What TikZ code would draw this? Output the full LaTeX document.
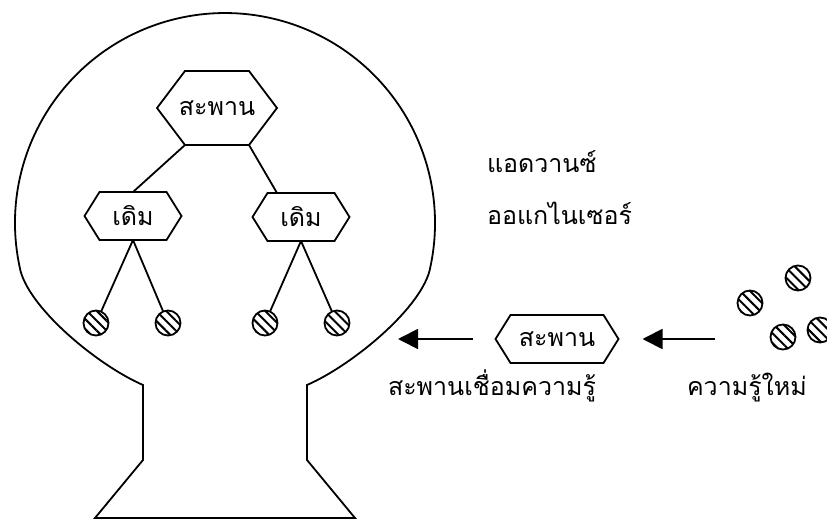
\documentclass[tikz,border=0pt]{standalone}
\usepackage{fontspec}
\newfontfamily\thaifont[Script=Thai]{Loma}
\usetikzlibrary{arrows.meta,patterns.meta}

\begin{document}
\begin{tikzpicture}[x=1pt,y=1pt,line width=1.8pt,
  every node/.style={font=\thaifont\fontsize{25}{29}\selectfont,inner sep=0pt,outer sep=0pt},
  hexa/.style={minimum width=#1,minimum height=48},
  seed/.style={circle,draw,minimum size=25,pattern={Lines[angle=-45,distance=7pt,line width=2pt]}},
  arr/.style={-{Triangle[length=20pt,width=20pt]}}]
\useasboundingbox (0,0) rectangle (827,-521);
%\draw[step=50,gray,very thin] (0,-521) grid (827,0);
\draw (95,-518) -- (143,-460) -- (143,-385)
  .. controls (97,-365) and (26,-306) .. (19.6,-266.7)
  arc[start angle=192,end angle=-12,radius=210]
  .. controls (424,-306) and (353,-365) .. (307,-385)
  -- (307,-460) -- (355,-518) -- cycle;
\node[hexa=120,minimum height=74] (top) at (217,-108) {สะพาน};
\node[hexa=97] (oldl) at (133,-216) {เดิม};
\node[hexa=97] (oldr) at (301,-217) {เดิม};
\node[hexa=123] (mid) at (557,-339) {สะพาน};
\foreach \n/\s in {top/28,oldl/15,oldr/15,mid/15}
  \draw (\n.west) -- ([xshift=\s]\n.north west) -- ([xshift=-\s]\n.north east) -- (\n.east)
    -- ([xshift=-\s]\n.south east) -- ([xshift=\s]\n.south west) -- cycle;
\node[seed] (c1) at (96,-323) {};
\node[seed] (c2) at (168,-323) {};
\node[seed] (c3) at (265,-323) {};
\node[seed] (c4) at (337,-323) {};
\draw ([xshift=28]top.south west) -- (oldl.north);
\draw ([xshift=-28]top.south east) -- ([xshift=-24]oldr.north);
\draw (oldl.south) -- (c1);
\draw (oldl.south) -- (c2);
\draw (oldr.south) -- (c3);
\draw (oldr.south) -- (c4);
\node[seed] (n1) at (750,-303) {};
\node[seed] (n2) at (798,-278) {};
\node[seed] (n3) at (783,-337) {};
\node[seed] (n4) at (820,-330) {};
\coordinate (tipL) at (398,-339);
\coordinate (tailR) at (715,-339);
\draw[arr,shorten <=23pt] (mid.west) -- (tipL);
\draw[arr,shorten >=24pt] (tailR) -- (mid.east);
\node[anchor=base west] (adv) at (487,-173) {แอดวานซ์};
\node[anchor=base west] (org) at (487,-225) {ออแกไนเซอร์};
\node[anchor=base west] (bridge) at (388,-395) {สะพานเชื่อมความรู้};
\node[anchor=base west] (newk) at (687,-395) {ความรู้ใหม่};
\end{tikzpicture}
\end{document}
